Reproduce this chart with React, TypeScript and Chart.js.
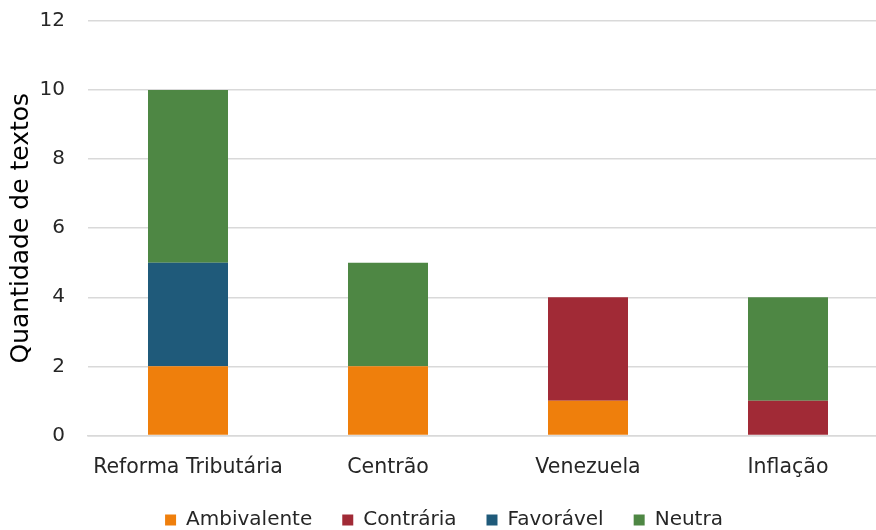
import React, { useEffect, useRef } from "react";
import { Chart, registerables } from "chart.js";

Chart.register(...registerables);

const categories = ["Reforma Tributária", "Centrão", "Venezuela", "Inflação"];
const ambivalente = [2, 2, 1, 0];
const contraria = [0, 0, 3, 1];
const favoravel = [3, 0, 0, 0];
const neutra = [5, 3, 0, 3];
const yTicks = [0, 2, 4, 6, 8, 10, 12];

const FONT = "'DejaVu Sans', Verdana, sans-serif";

export default function App() {
  const ref = useRef<HTMLCanvasElement | null>(null);
  useEffect(() => {
    if (!ref.current) return;
    const chart = new Chart(ref.current, {
      type: "bar",
      data: {
        labels: categories,
        datasets: [
          { label: "Ambivalente", data: ambivalente, backgroundColor: "#EF7F0C" },
          { label: "Contrária", data: contraria, backgroundColor: "#A12A36" },
          { label: "Favorável", data: favoravel, backgroundColor: "#1F5A7A" },
          { label: "Neutra", data: neutra, backgroundColor: "#4E8744" },
        ],
      },
      options: {
        animation: false,
        responsive: false,
        maintainAspectRatio: false,
        layout: { padding: { top: 0, right: 12, left: 0, bottom: 0 } },
        datasets: { bar: { barPercentage: 0.4, categoryPercentage: 1 } },
        plugins: {
          tooltip: { enabled: false },
          legend: {
            position: "bottom",
            labels: {
              boxWidth: 11,
              boxHeight: 11,
              padding: 30,
              color: "#262626",
              font: { family: FONT, size: 20 },
            },
          },
        },
        scales: {
          x: {
            stacked: true,
            grid: { display: false, drawTicks: false },
            border: { color: "#d9d9d9", width: 1.5 },
            ticks: { color: "#262626", font: { family: FONT, size: 20.5 }, padding: 20 },
            afterFit: (s: any) => {
              s.height = s.height - 20;
            },
          },
          y: {
            stacked: true,
            min: 0,
            max: 12,
            afterBuildTicks: (s: any) => {
              s.ticks = yTicks.map((v) => ({ value: v }));
            },
            afterFit: (s: any) => {
              s.width = 88;
              s.paddingTop = 21;
              s.paddingBottom = 0;
            },
            grid: { color: "#d9d9d9", lineWidth: 1.5, drawTicks: false },
            border: { display: false },
            ticks: { color: "#262626", font: { family: FONT, size: 20 }, padding: 23 },
            title: {
              display: true,
              text: "Quantidade de textos",
              color: "#000000",
              font: { family: FONT, size: 25 },
              padding: { top: 6, bottom: 0 },
            },
          },
        },
      },
    });
    return () => chart.destroy();
  }, []);
  return (
    <div style={{ position: "absolute", left: 0, top: 0, width: 876, height: 530, overflow: "hidden", background: "#fff" }}>
      <canvas ref={ref} width={900} height={540} style={{ width: 900, height: 540, display: "block" }} />
    </div>
  );
}
